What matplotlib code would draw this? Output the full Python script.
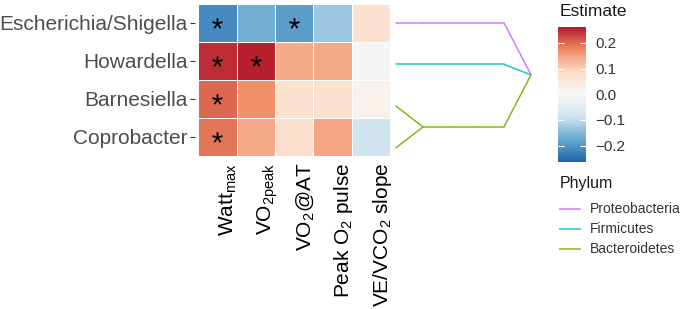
import matplotlib.pyplot as plt
import matplotlib.colors as mcolors
import matplotlib.transforms as mtransforms
import numpy as np

plt.rcParams['font.family'] = ['Liberation Sans', 'DejaVu Sans']
plt.rcParams['mathtext.default'] = 'regular'

# ---- data ----
genera = ["Escherichia/Shigella", "Howardella", "Barnesiella", "Coprobacter"]
measures = [r"Watt$_{max}$", r"VO$_{2peak}$", r"VO$_2$@AT",
            r"Peak O$_2$ pulse", r"VE/VCO$_2$ slope"]

est_escherichia = [-0.215, -0.165, -0.19, -0.13, 0.07]
est_howardella = [0.245, 0.255, 0.14, 0.14, -0.01]
est_barnesiella = [0.20, 0.17, 0.07, 0.07, 0.02]
est_coprobacter = [0.19, 0.14, 0.08, 0.145, -0.09]

sig_escherichia = [1, 0, 1, 0, 0]
sig_howardella = [1, 1, 0, 0, 0]
sig_barnesiella = [1, 0, 0, 0, 0]
sig_coprobacter = [1, 0, 0, 0, 0]

# taxonomy (phylum, class, order, family) for each genus
lin_escherichia = ["Proteobacteria", "Gammaproteobacteria", "Enterobacterales", "Enterobacteriaceae"]
lin_howardella = ["Firmicutes", "Clostridia", "Clostridiales", "Lachnospiraceae"]
lin_barnesiella = ["Bacteroidetes", "Bacteroidia", "Bacteroidales", "Barnesiellaceae"]
lin_coprobacter = ["Bacteroidetes", "Bacteroidia", "Bacteroidales", "Barnesiellaceae"]

phyla = ["Proteobacteria", "Firmicutes", "Bacteroidetes"]
phylum_colors = ["#D07CFF", "#22C4C4", "#86B81A"]

est = np.array([est_escherichia, est_howardella, est_barnesiella, est_coprobacter])
sig = np.array([sig_escherichia, sig_howardella, sig_barnesiella, sig_coprobacter])
lineages = [lin_escherichia + [genera[0]], lin_howardella + [genera[1]],
            lin_barnesiella + [genera[2]], lin_coprobacter + [genera[3]]]

lim = 0.263
rdbu = ["#2166AC", "#67A9CF", "#D1E5F0", "#F7F7F7", "#FDDBC7", "#EF8A62", "#B2182B"]
cmap = mcolors.LinearSegmentedColormap.from_list("rdbu7", rdbu)
norm = mcolors.Normalize(vmin=-lim, vmax=lim)

W, H = 685, 309
fig = plt.figure(figsize=(W / 100, H / 100), dpi=100)

def box(x0, y0, x1, y1):
    return [x0 / W, 1 - y1 / H, (x1 - x0) / W, (y1 - y0) / H]

# ---- heatmap ----
ax = fig.add_axes(box(194.5, 4, 393.8, 156))
nr, nc = est.shape
mesh = ax.pcolormesh(np.arange(nc + 1), np.arange(nr + 1), est, cmap=cmap, norm=norm,
                     edgecolors='white', linewidth=0.5)
rr, cc = np.nonzero(sig)
ax.scatter(cc + 0.5, rr + 0.5, marker='$*$', s=58, c='black', linewidths=0)
ax.set_xlim(-0.1, nc + 0.1)
ax.set_ylim(nr, 0)
for s in ax.spines.values():
    s.set_visible(False)
ax.set_yticks(np.arange(nr) + 0.5, genera, fontsize=15, color='#4D4D4D')
ax.set_xticks(np.arange(nc) + 0.5, measures, fontsize=15, rotation=90, ha='left', va='top')
shift = mtransforms.ScaledTranslation(-1.5 / 100, 0, fig.dpi_scale_trans)
for lbl in ax.get_xticklabels():
    lbl.set_transform(lbl.get_transform() + shift)
ax.tick_params(axis='y', length=3.8, width=0.8, color='#333333', pad=1.2)
ax.tick_params(axis='x', length=0, pad=5)

# ---- taxonomy tree ----
children = {}
for lin in lineages:
    for k in range(len(lin)):
        kids = children.setdefault(tuple(lin[:k]), [])
        if tuple(lin[:k + 1]) not in kids:
            kids.append(tuple(lin[:k + 1]))
depth = len(lineages[0])

def node_y(node):
    if node not in children:
        return [tuple(l) for l in lineages].index(node)
    ys = [node_y(c) for c in children[node]]
    return (min(ys) + max(ys)) / 2

tax = fig.add_axes(box(396, 1.9, 531, 168.6))
for parent, kids in children.items():
    for kid in kids:
        col = phylum_colors[phyla.index(kid[0])]
        tax.plot([depth - len(parent), depth - len(kid)], [node_y(parent), node_y(kid)],
                 color=col, lw=1.1, solid_capstyle='round', clip_on=False)
tax.set_xlim(0, depth)
tax.set_ylim(nr - 0.5, -0.5)
tax.axis('off')

# ---- colorbar ----
cax = fig.add_axes(box(558, 26.7, 586, 161.7))
cb = fig.colorbar(mesh, cax=cax)
cb.outline.set_visible(False)
cb.set_ticks([-0.2, -0.1, 0.0, 0.1, 0.2])
cb.set_ticklabels(["\u22120.2", "\u22120.1", "0.0", "0.1", "0.2"])
cax.tick_params(left=True, right=True, direction='in', length=4, width=0.8,
                color='white', labelcolor='#333333', labelsize=11, pad=6.5)
fig.text(560 / W, 1 - 16 / H, "Estimate", fontsize=12.5, color='#1A1A1A', va='baseline')

# ---- phylum legend ----
fig.text(560 / W, 1 - 188.3 / H, "Phylum", fontsize=11.5, color='#1A1A1A', va='baseline')
lax = fig.add_axes(box(559, 200, 685, 260))
lax.set_xlim(0, 126)
lax.set_ylim(len(phyla) - 0.5 + 0.05, -0.5 + 0.05)
lax.axis('off')
for i, (name, col) in enumerate(zip(phyla, phylum_colors)):
    lax.plot([0, 21], [i, i], color=col, lw=1.1)
    lax.text(31, i, name, fontsize=10, color='#333333', va='center')

fig.savefig("out.png", dpi=100)
